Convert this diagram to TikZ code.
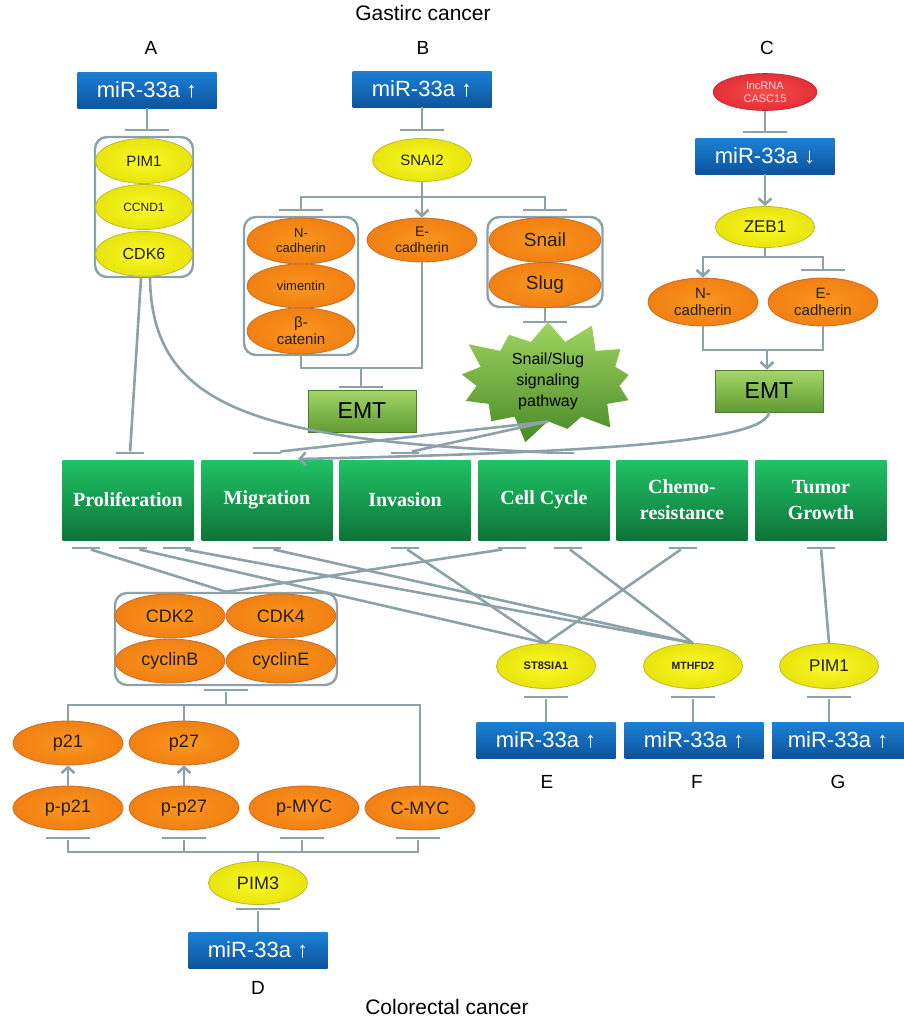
\documentclass[tikz,border=0pt]{standalone}
\usepackage{fontspec}
\setmainfont{Liberation Sans}
\newfontfamily\grnfont{Liberation Serif}
\usetikzlibrary{positioning,shapes.geometric,shapes.symbols,arrows.meta}

\definecolor{linec}{RGB}{140,162,168}
\definecolor{txt}{RGB}{35,30,20}
\definecolor{mirtop}{RGB}{28,128,212}
\definecolor{mirbot}{RGB}{12,84,158}
\definecolor{yeli}{RGB}{250,250,40}
\definecolor{yelo}{RGB}{232,228,12}
\definecolor{yelr}{RGB}{190,185,40}
\definecolor{orgi}{RGB}{252,150,32}
\definecolor{orgo}{RGB}{240,128,18}
\definecolor{orgr}{RGB}{200,110,40}
\definecolor{redi}{RGB}{245,75,75}
\definecolor{redo}{RGB}{228,48,55}
\definecolor{grntop}{RGB}{32,194,102}
\definecolor{grnbot}{RGB}{14,116,56}
\definecolor{emttop}{RGB}{165,214,105}
\definecolor{emtbot}{RGB}{95,156,50}
\definecolor{startop}{RGB}{160,212,95}
\definecolor{starbot}{RGB}{72,138,40}

\tikzset{
  lnk/.style={draw=linec, line width=2.6pt},
  act/.style={lnk, -{Straight Barb[length=6pt,width=13pt]}},
  tbar/.style={rectangle, fill=linec, inner sep=0pt, minimum width=44pt, minimum height=2.6pt},
  sbar/.style={tbar, minimum width=28pt},
  mir/.style={rectangle, top color=mirtop, bottom color=mirbot, text=white, inner sep=0pt,
    minimum width=139pt, minimum height=36pt, font=\fontsize{22}{24}\selectfont},
  yel/.style={ellipse, inner color=yeli, outer color=yelo, draw=yelr, line width=0.8pt,
    inner sep=0pt, minimum width=99pt, minimum height=43pt, text=txt, align=center},
  org/.style={ellipse, inner color=orgi, outer color=orgo, draw=orgr, line width=0.8pt,
    inner sep=0pt, minimum width=110pt, minimum height=44pt, text=txt, align=center},
  grp/.style={draw=linec, line width=2.4pt, rounded corners=12pt, inner sep=0pt},
  grn/.style={rectangle, top color=grntop, bottom color=grnbot, text=white, align=center,
    minimum width=131pt, minimum height=80pt, font=\grnfont\bfseries\fontsize{20}{26}\selectfont},
  emt/.style={rectangle, top color=emttop, bottom color=emtbot, draw=emtbot!80!black, line width=0.5pt,
    minimum width=108pt, minimum height=42pt, font=\fontsize{23}{25}\selectfont},
  lbl/.style={font=\fontsize{19}{21}\selectfont}
}

\begin{document}
\begin{tikzpicture}[x=1pt,y=-1pt]
\useasboundingbox (0,0) rectangle (904,1020);

\node[lbl, font=\fontsize{21}{23}\selectfont] (title) at (423,13) {Gastirc cancer};
\node[lbl] (labA) at (151,48) {A};
\node[lbl] (labB) at (423,48) {B};
\node[lbl] (labC) at (767,48) {C};

\node[mir] (mirA) at (147,90) {miR-33a ↑};
\node[tbar] (tA) at (147,130) {};
\node[grp, minimum width=98pt, minimum height=140pt] (grpA) at (144,207) {};
\node[yel, minimum width=97pt, minimum height=45pt, font=\fontsize{15}{17}\selectfont] (pimA) at (144,161) {PIM1};
\node[yel, minimum width=97pt, minimum height=45pt, font=\fontsize{12}{14}\selectfont] (ccnd1) at (144,207) {CCND1};
\node[yel, minimum width=97pt, minimum height=45pt, font=\fontsize{16}{18}\selectfont] (cdk6) at (144,254) {CDK6};
\draw[lnk] (mirA) -- (tA);

\node[mir] (mirB) at (422,89) {miR-33a ↑};
\node[tbar] (tB) at (422,130) {};
\node[yel, font=\fontsize{15}{17}\selectfont] (snai2) at (422,160) {SNAI2};
\draw[lnk] (mirB) -- (tB);
\node[grp, minimum width=114pt, minimum height=138pt] (grpN) at (301,286) {};
\node[org, minimum width=108pt, minimum height=46pt, font=\fontsize{13}{15}\selectfont] (ncadB) at (301,241) {N-\\cadherin};
\node[org, minimum width=108pt, minimum height=44pt, font=\fontsize{13}{15}\selectfont] (vim) at (301,286) {vimentin};
\node[org, minimum width=108pt, minimum height=46pt, font=\fontsize{15}{17}\selectfont] (bcat) at (301,331) {β-\\catenin};
\node[org, font=\fontsize{14}{16}\selectfont] (ecadB) at (422,240) {E-\\cadherin};
\node[grp, minimum width=115pt, minimum height=90pt] (grpS) at (545,262) {};
\node[org, minimum width=112pt, minimum height=45pt, font=\fontsize{19}{21}\selectfont] (snail) at (545,240) {Snail};
\node[org, minimum width=112pt, minimum height=45pt, font=\fontsize{19}{21}\selectfont] (slug) at (545,285) {Slug};
\node[tbar] (tB1) at (301,210) {};
\node[tbar] (tB2) at (545,210) {};
\coordinate (jB) at (422,197);
\draw[lnk] (snai2) -- (jB);
\draw[lnk] (tB1) |- (jB) -| (tB2);
\draw[act] (jB) -- (ecadB);
\node[tbar] (tS) at (545,322) {};
\draw[lnk] (grpS) -- (tS);
\coordinate (jE) at (361,368);
\node[tbar] (tE) at (361,387) {};
\draw[lnk] (grpN) |- (jE) -| (ecadB);
\draw[lnk] (jE) -- (tE);
\node[emt] (emtB) at (362,411) {EMT};
\node[starburst, starburst points=13, starburst point height=26pt, top color=startop, bottom color=starbot,
  minimum width=196pt, minimum height=94pt, inner sep=0pt, align=center, font=\fontsize{16}{21}\selectfont] (star) at (548,381) {Snail/Slug\\signaling\\pathway};

\node[ellipse, inner color=redi, outer color=redo, draw=redo!80!black, line width=0.6pt, inner sep=0pt,
  minimum width=104pt, minimum height=37pt, text=white!85!red, align=center, font=\fontsize{11}{13}\selectfont] (lnc) at (765,92) {lncRNA\\CASC15};
\node[tbar] (tC) at (765,132) {};
\draw[lnk] (lnc) -- (tC);
\node[mir] (mirC) at (765,156) {miR-33a ↓};
\node[yel, minimum height=41pt, font=\fontsize{17}{19}\selectfont] (zeb1) at (765,227) {ZEB1};
\draw[act] (mirC) -- (zeb1);
\node[org, minimum height=48pt, font=\fontsize{15}{17}\selectfont] (ncadC) at (703,302) {N-\\cadherin};
\node[org, minimum height=48pt, font=\fontsize{15}{17}\selectfont] (ecadC) at (823,302) {E-\\cadherin};
\node[tbar] (tC2) at (823,270) {};
\coordinate (jC) at (765,257);
\draw[lnk] (zeb1) -- (jC);
\draw[act] (jC) -| (ncadC);
\draw[lnk] (jC) -| (tC2);
\node[emt] (emtC) at (769,391) {EMT};
\coordinate (jC2) at (767,350);
\draw[lnk] (ncadC) |- (jC2) -| (ecadC);
\draw[act] (jC2) -- (jC2 |- emtC.north);

\node[grn] (pro) at (128,500) {Proliferation};
\node[grn] (mig) at (267,500) {Migration};
\node[grn] (inv) at (405,500) {Invasion};
\node[grn] (cyc) at (544,500) {Cell Cycle};
\node[grn] (chem) at (682,500) {Chemo-\\resistance};
\node[grn] (tum) at (821,500) {Tumor\\Growth};

\node[sbar] (tPro) at (130,453) {};
\node[sbar] (tMig) at (267,453) {};
\node[sbar] (tInv) at (405,453) {};
\node[sbar] (tCyc) at (560,453) {};
\coordinate (migin) at (298,459);
\draw[lnk] ([xshift=-3pt]grpA.south) -- (tPro);
\draw[lnk] ([xshift=6pt]grpA.south) .. controls (152,410) and (260,440) .. (tCyc);
\draw[lnk] (star.south) -- (tMig);
\draw[lnk] (star.south) -- (tInv);
\draw[act] (emtC.south) .. controls (765,440) and (620,452) .. (migin);

\node[sbar] (bP1) at (86,548) {};
\node[sbar] (bP2) at (133,548) {};
\node[sbar] (bP3) at (177,548) {};
\node[sbar] (bM) at (267,548) {};
\node[sbar] (bI) at (405,548) {};
\node[sbar] (bC1) at (512,548) {};
\node[sbar] (bC2) at (568,548) {};
\node[sbar] (bCh) at (683,548) {};
\node[sbar] (bT) at (821,548) {};

\node[grp, minimum width=222pt, minimum height=92pt] (grpD) at (226,639) {};
\node[org, font=\fontsize{18}{20}\selectfont] (cdk2) at (170,616) {CDK2};
\node[org, font=\fontsize{18}{20}\selectfont] (cdk4) at (281,616) {CDK4};
\node[org, font=\fontsize{18}{20}\selectfont] (cycb) at (170,661) {cyclinB};
\node[org, font=\fontsize{18}{20}\selectfont] (cyce) at (281,661) {cyclinE};
\node[tbar] (tD) at (226,690) {};
\coordinate (jD) at (226,705);
\node[org, font=\fontsize{18}{20}\selectfont] (p21) at (68,743) {p21};
\node[org, font=\fontsize{18}{20}\selectfont] (p27) at (184,743) {p27};
\node[org, font=\fontsize{18}{20}\selectfont] (pp21) at (68,808) {p-p21};
\node[org, font=\fontsize{18}{20}\selectfont] (pp27) at (184,808) {p-p27};
\node[org, font=\fontsize{18}{20}\selectfont] (pmyc) at (304,808) {p-MYC};
\node[org, font=\fontsize{18}{20}\selectfont] (cmyc) at (420,808) {C-MYC};
\draw[lnk] (tD) -- (jD);
\draw[lnk] (p21) |- (jD) -| (cmyc);
\draw[lnk] (p27) -- (p27 |- jD);
\draw[act] (pp21) -- (p21);
\draw[act] (pp27) -- (p27);
\node[tbar] (tq1) at (68,838) {};
\node[tbar] (tq2) at (184,838) {};
\node[tbar] (tq3) at (302,838) {};
\node[tbar] (tq4) at (418,838) {};
\coordinate (jD2) at (258,852);
\draw[lnk] (tq1) |- (jD2) -| (tq4);
\draw[lnk] (tq2) -- (tq2 |- jD2);
\draw[lnk] (tq3) -- (tq3 |- jD2);
\node[yel, font=\fontsize{18}{20}\selectfont] (pim3) at (258,883) {PIM3};
\draw[lnk] (pim3) -- (jD2);
\node[tbar] (tD3) at (258,909) {};
\node[mir] (mirD) at (258,950) {miR-33a ↑};
\draw[lnk] (mirD) -- (tD3);
\node[lbl] (labD) at (258,988) {D};

\node[yel, minimum height=45pt, font=\bfseries\fontsize{11}{13}\selectfont] (st8) at (546,666) {ST8SIA1};
\node[yel, minimum height=45pt, font=\bfseries\fontsize{10.5}{12}\selectfont] (mth) at (693,666) {MTHFD2};
\node[yel, minimum height=45pt, font=\fontsize{17}{19}\selectfont] (pimG) at (829,666) {PIM1};
\node[tbar] (tE1) at (546,697) {};
\node[tbar] (tF1) at (693,697) {};
\node[tbar] (tG1) at (829,697) {};
\node[mir] (mirE) at (546,740) {miR-33a ↑};
\node[mir] (mirF) at (694,740) {miR-33a ↑};
\node[mir, minimum width=132pt] (mirG) at (838,740) {miR-33a ↑};
\draw[lnk] (mirE) -- (tE1);
\draw[lnk] (mirF.north -| tF1) -- (tF1);
\draw[lnk] (mirG.north -| tG1) -- (tG1);
\node[lbl] (labE) at (547,782) {E};
\node[lbl] (labF) at (697,782) {F};
\node[lbl] (labG) at (838,782) {G};

\draw[lnk] (grpD.north) -- (bP1);
\draw[lnk] (grpD.north) -- (bC1);
\draw[lnk] (st8.north) -- (bP2);
\draw[lnk] (st8.north) -- (bI);
\draw[lnk] (st8.north) -- (bCh);
\draw[lnk] (mth.north) -- (bP3);
\draw[lnk] (mth.north) -- (bM);
\draw[lnk] (mth.north) -- (bC2);
\draw[lnk] (pimG.north) -- (bT);

\node[lbl, font=\fontsize{21}{23}\selectfont] (foot) at (447,1007) {Colorectal cancer};
\end{tikzpicture}
\end{document}
